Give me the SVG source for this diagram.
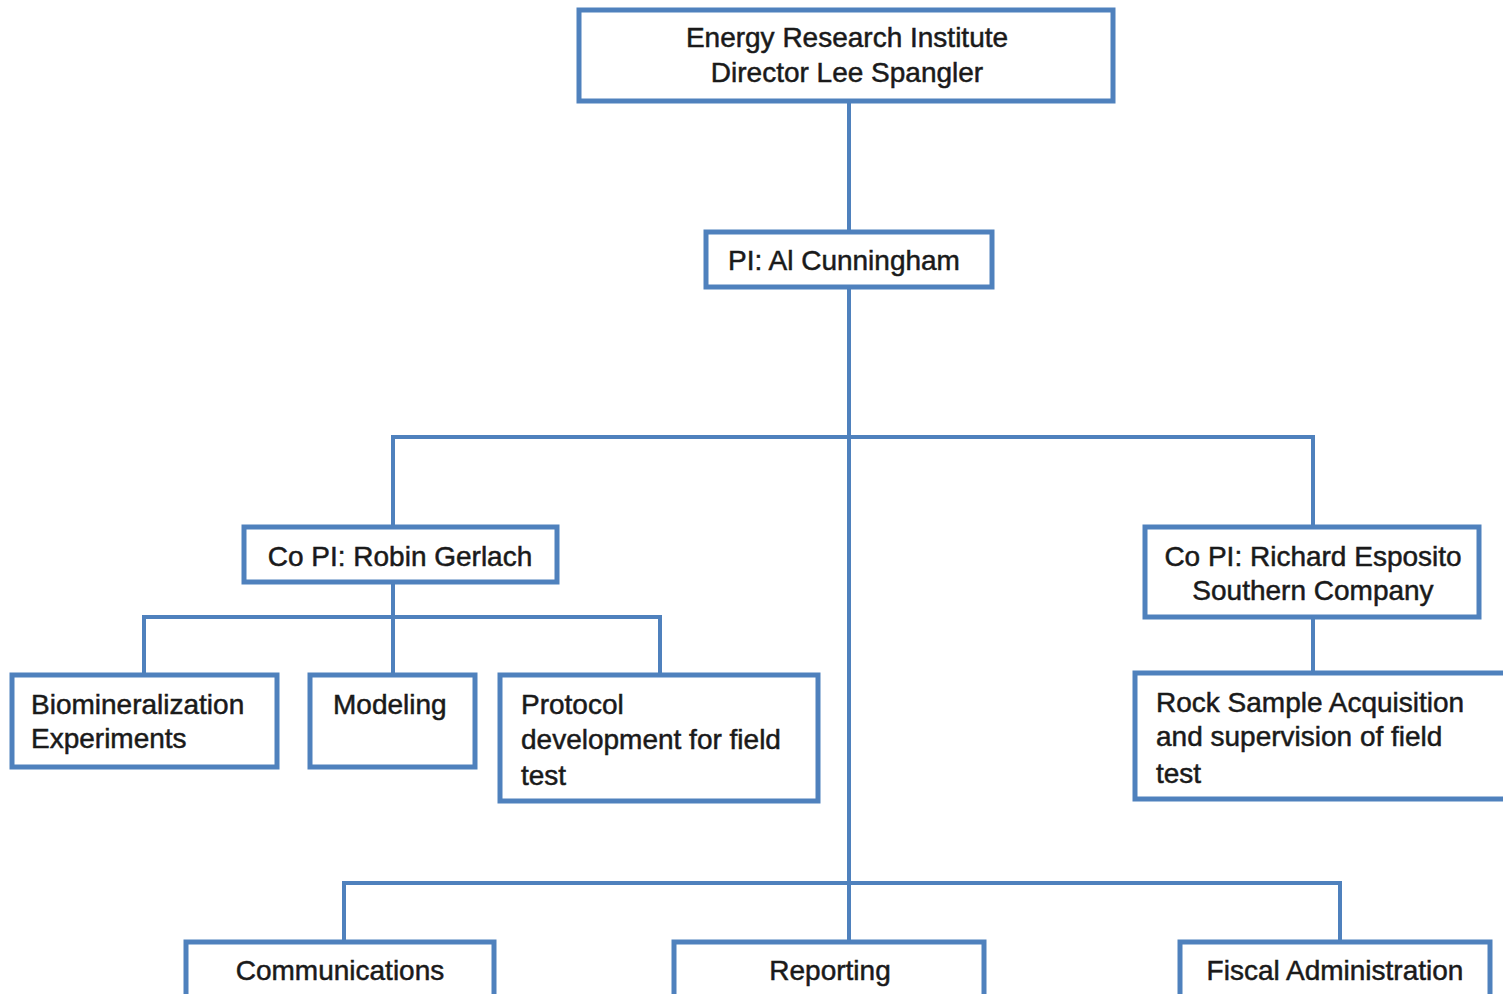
<svg xmlns="http://www.w3.org/2000/svg" width="1503" height="994" viewBox="0 0 1503 994">
<style>
.box{fill:#fff;stroke:#4f81bd;stroke-width:5}
.conn{fill:none;stroke:#4f81bd;stroke-width:4}
text{font-family:"Liberation Sans",Arial,sans-serif;font-size:28px;fill:#1a1a1a;stroke:#1a1a1a;stroke-width:0.5}
.c{text-anchor:middle}
</style>
<rect width="1503" height="994" fill="#fff"/>
<g id="connectors">
<path class="conn" d="M849 101V942"/>
<path class="conn" d="M393 527V437H1313V527"/>
<path class="conn" d="M393 582V675M144 675V617H660V675"/>
<path class="conn" d="M1313 617V673"/>
<path class="conn" d="M344 942V883H1340V942"/>
</g>
<g id="n-eri"><rect class="box" x="579" y="10" width="534" height="91"/>
<text class="c" x="847" y="47">Energy Research Institute</text>
<text class="c" x="847" y="82">Director Lee Spangler</text></g>
<g id="n-pi"><rect class="box" x="706" y="232" width="286" height="55"/>
<text class="c" x="844" y="270">PI: Al Cunningham</text></g>
<g id="n-gerlach"><rect class="box" x="244" y="527" width="313" height="55"/>
<text class="c" x="400" y="566">Co PI: Robin Gerlach</text></g>
<g id="n-esposito"><rect class="box" x="1145" y="527" width="334" height="90"/>
<text class="c" x="1313" y="566">Co PI: Richard Esposito</text>
<text class="c" x="1313" y="600">Southern Company</text></g>
<g id="n-bio"><rect class="box" x="12" y="675" width="265" height="92"/>
<text x="31" y="714">Biomineralization</text>
<text x="31" y="748">Experiments</text></g>
<g id="n-model"><rect class="box" x="310" y="675" width="165" height="92"/>
<text x="333" y="714">Modeling</text></g>
<g id="n-protocol"><rect class="box" x="500" y="675" width="318" height="126"/>
<text x="521" y="714">Protocol</text>
<text x="521" y="749">development for field</text>
<text x="521" y="785">test</text></g>
<g id="n-rock"><rect class="box" x="1135" y="673" width="380" height="126"/>
<text x="1156" y="712">Rock Sample Acquisition</text>
<text x="1156" y="746">and supervision of field</text>
<text x="1156" y="783">test</text></g>
<g id="n-comm"><rect class="box" x="186" y="942" width="308" height="70"/>
<text class="c" x="340" y="980">Communications</text></g>
<g id="n-report"><rect class="box" x="674" y="942" width="310" height="70"/>
<text class="c" x="830" y="980">Reporting</text></g>
<g id="n-fiscal"><rect class="box" x="1180" y="942" width="310" height="70"/>
<text class="c" x="1335" y="980">Fiscal Administration</text></g>
</svg>
